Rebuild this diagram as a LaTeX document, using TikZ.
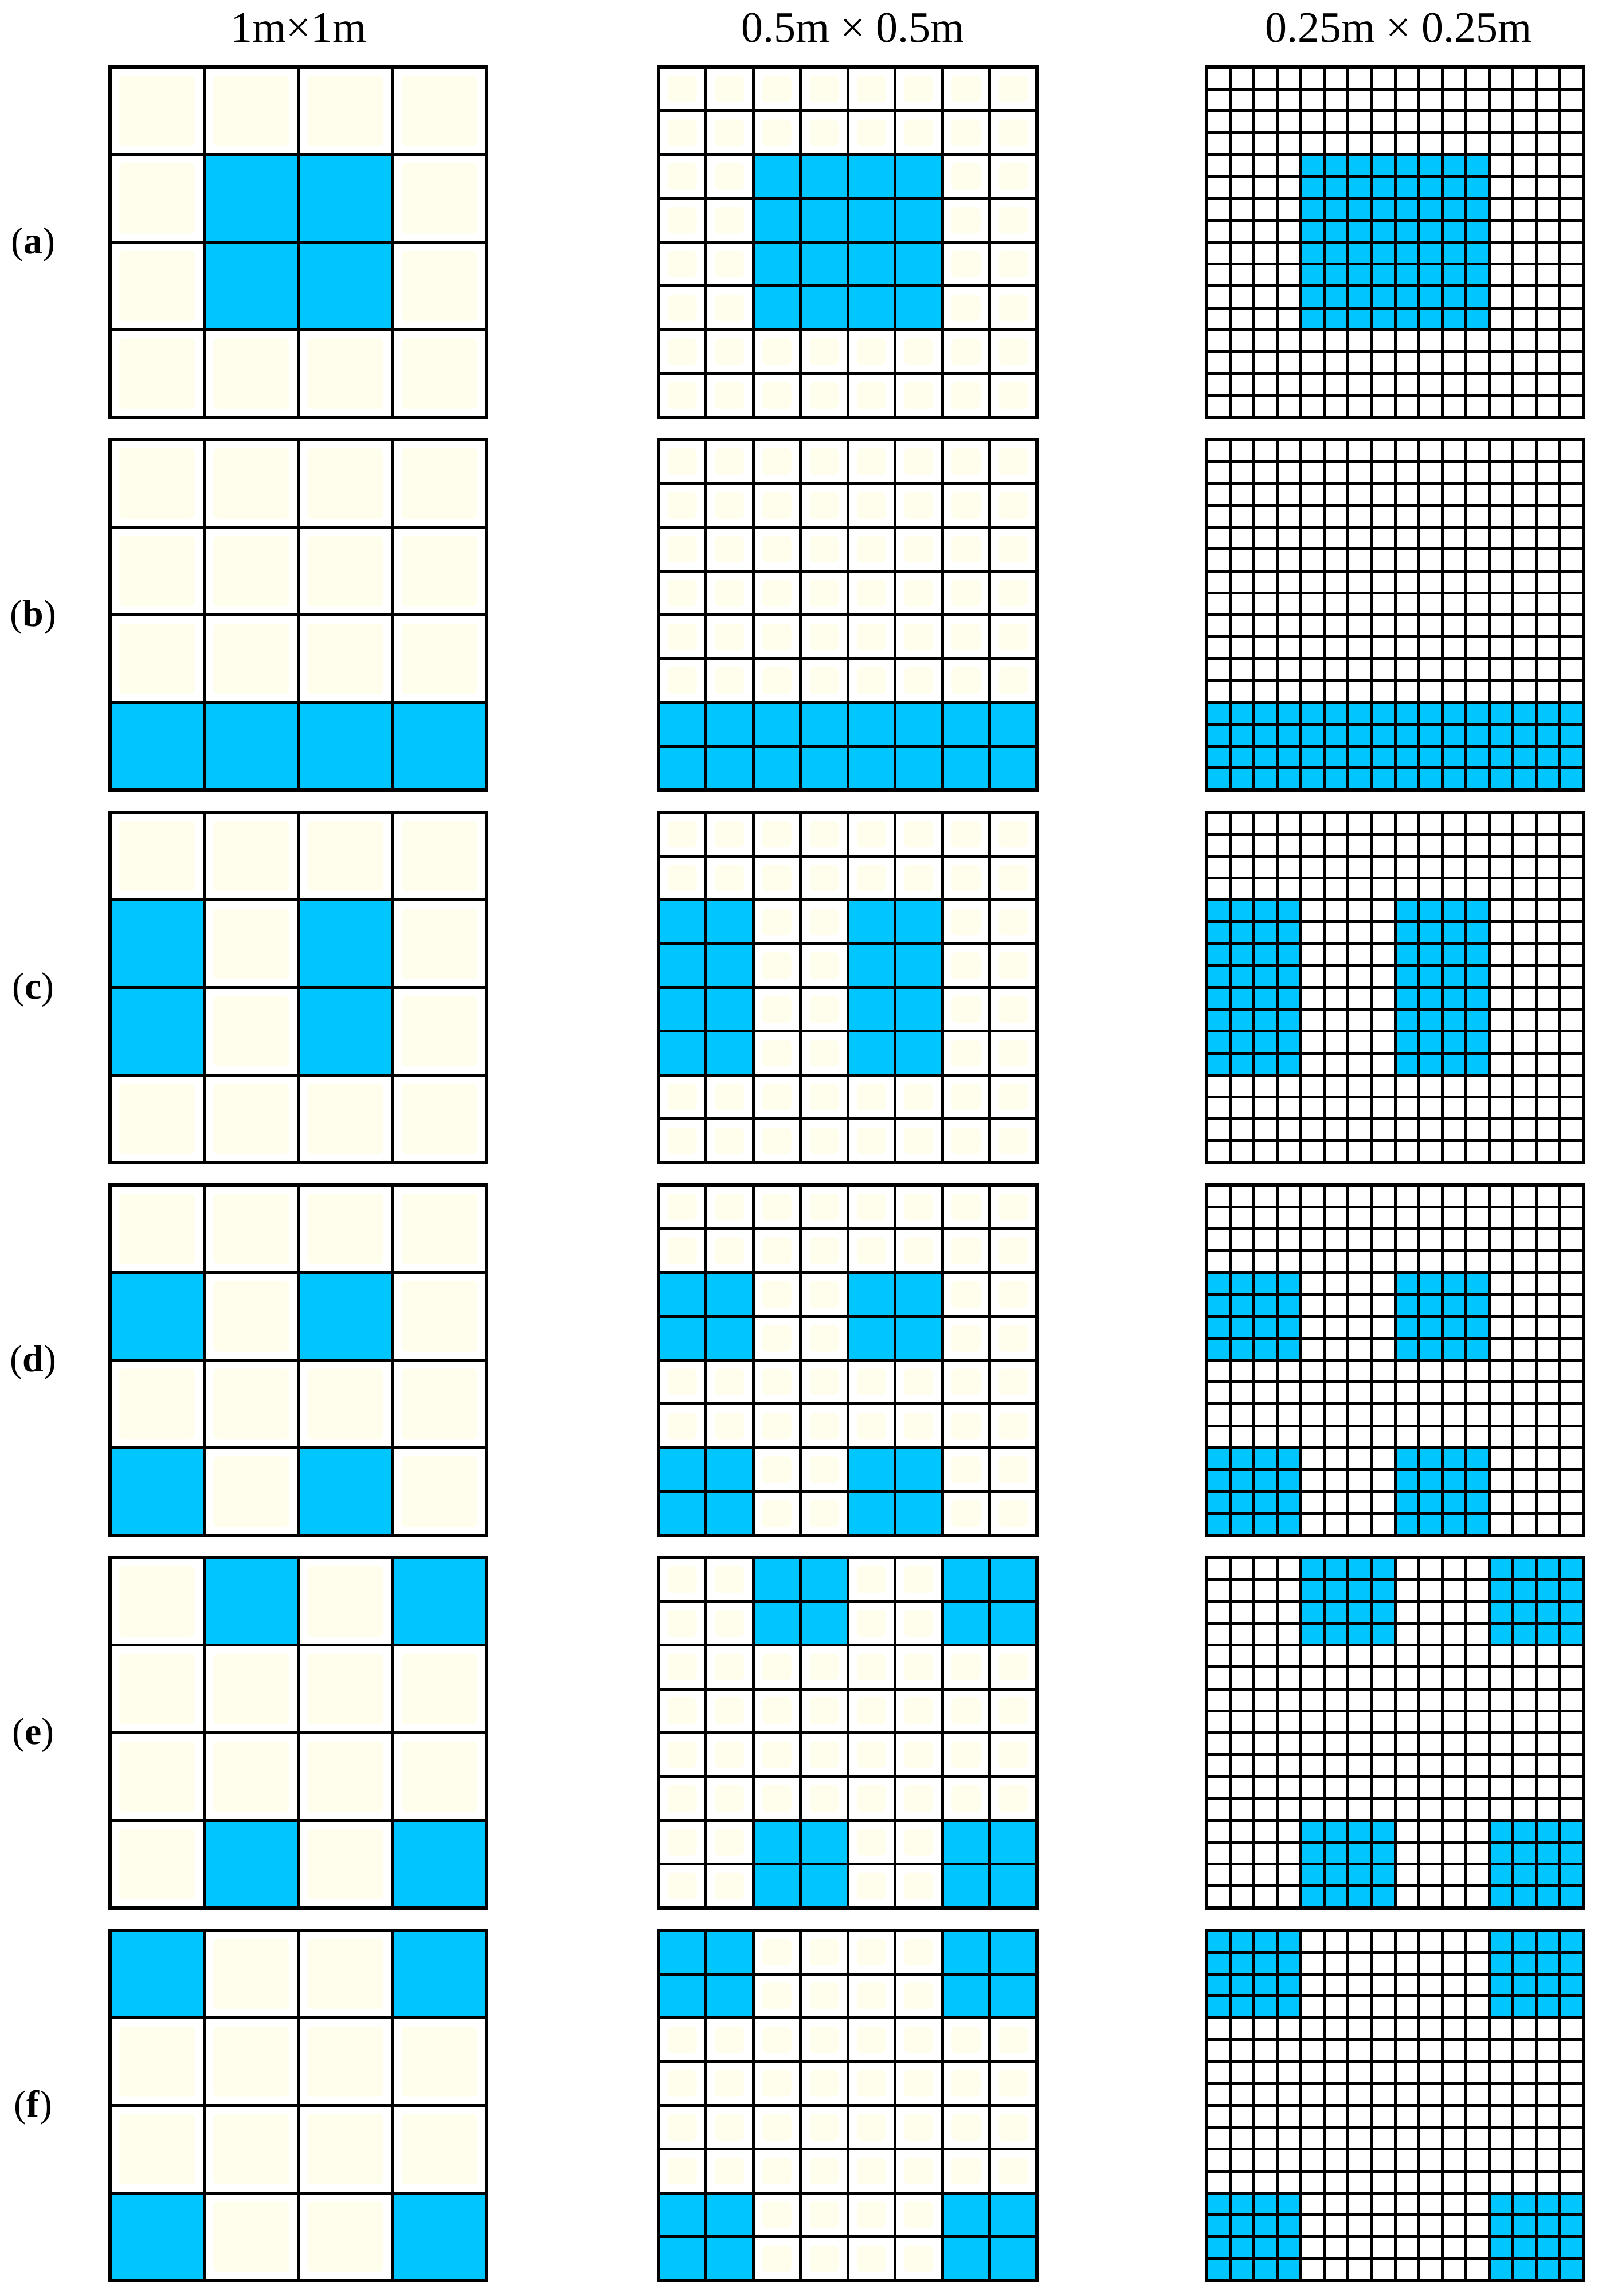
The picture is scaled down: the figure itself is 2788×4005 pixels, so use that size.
\documentclass[tikz,border=0pt]{standalone}
\usepackage{fontspec}
\setmainfont{Liberation Serif}
\definecolor{cellblue}{RGB}{0,198,255}
\definecolor{cream}{RGB}{255,254,236}
\tikzset{
  gridline/.style={line width=5pt, draw=black},
  borderline/.style={line width=6pt, draw=black},
  header/.style={anchor=base, inner sep=0pt, font=\fontsize{76}{84}\selectfont},
  rowlabel/.style={anchor=base, inner sep=0pt, font=\fontsize{66}{72}\selectfont}
}
\newcommand\mypanel[5]{% x0, x1, y0, n, list of blue 1m-cells r/c
  \pgfmathsetmacro\pa{#1}\pgfmathsetmacro\pb{#2}\pgfmathsetmacro\pc{#3}
  \pgfmathsetmacro\pd{#3+611}
  \pgfmathsetmacro\cw{(#2-#1)/#4}\pgfmathsetmacro\ch{611/#4}
  \pgfmathtruncatemacro\nm{#4-1}
  \fill[white] (\pa,\pc) rectangle (\pb,\pd);
  \ifnum#4<16
    \foreach \i in {0,...,\nm}{\foreach \j in {0,...,\nm}{
      \fill[cream, rounded corners=8pt] ({\pa+\i*\cw+16},{\pc+\j*\ch+15}) rectangle ({\pa+(\i+1)*\cw-16},{\pc+(\j+1)*\ch-15});}}
  \fi
  \foreach \r/\c in {#5}{
    \fill[cellblue] ({\pa+\c*(\pb-\pa)/4},{\pc+\r*611/4}) rectangle ({\pa+(\c+1)*(\pb-\pa)/4},{\pc+(\r+1)*611/4});}
  \foreach \k in {1,...,\nm}{
    \draw[gridline] ({\pa+\k*\cw},\pc) -- ({\pa+\k*\cw},\pd);
    \draw[gridline] (\pa,{\pc+\k*\ch}) -- (\pb,{\pc+\k*\ch});}
  \draw[borderline] (\pa,\pc) rectangle (\pb,\pd);
}
\newcommand\myrow[3]{% y0, blue list, label letter
  \mypanel{192}{849}{#1}{4}{#2}
  \mypanel{1149}{1809}{#1}{8}{#2}
  \mypanel{2105}{2763}{#1}{16}{#2}
  \node[rowlabel] (lab#3) at (58,{#1+325}) {(\textbf{#3})};
}
\begin{document}
\begin{tikzpicture}[x=1pt,y=-1pt]
\useasboundingbox[fill=white] (0,0) rectangle (2788,4005);
\node[header] (h1) at (521,73) {1m×1m};
\node[header] (h2) at (1488,73) {0.5m × 0.5m};
\node[header] (h3) at (2440,73) {0.25m × 0.25m};
\myrow{117}{1/1,1/2,2/1,2/2}{a}
\myrow{767}{3/0,3/1,3/2,3/3}{b}
\myrow{1417}{1/0,2/0,1/2,2/2}{c}
\myrow{2067}{1/0,3/0,1/2,3/2}{d}
\myrow{2717}{0/1,0/3,3/1,3/3}{e}
\myrow{3367}{0/0,0/3,3/0,3/3}{f}
\end{tikzpicture}
\end{document}
